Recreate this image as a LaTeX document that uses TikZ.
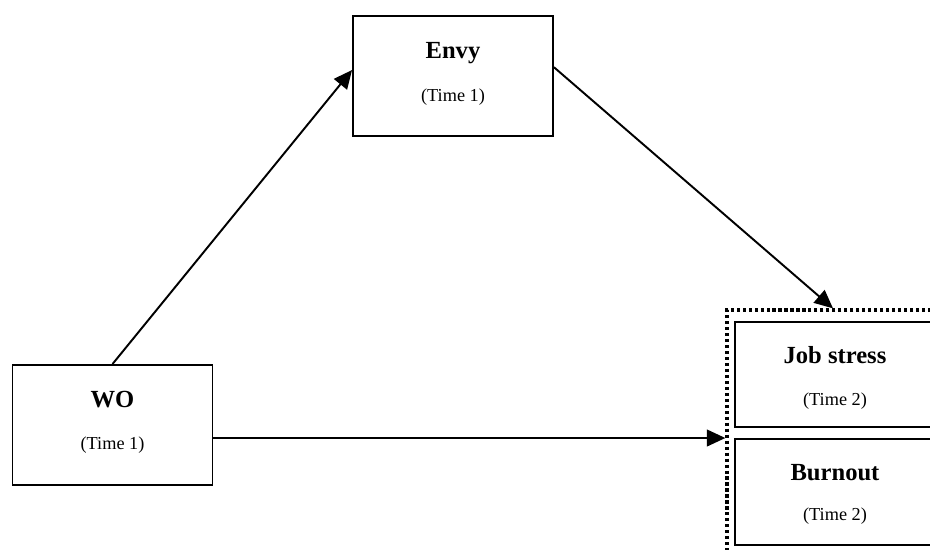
\documentclass[tikz,border=0pt]{standalone}
\usepackage{fontspec}
\setmainfont{Liberation Serif}
\usetikzlibrary{arrows.meta}
\begin{document}
\begin{tikzpicture}[x=0.02cm,y=-0.02cm,
		box/.style={draw,line width=1.1pt,minimum width=4cm,minimum height=2.4cm,inner sep=0pt},
		outbox/.style={draw,line width=1.1pt,minimum width=4cm,minimum height=2.1cm,inner sep=0pt},
		title/.style={font=\fontsize{14}{16}\selectfont\bfseries,anchor=base,inner sep=0pt},
		time/.style={font=\fontsize{10.4}{12}\selectfont,anchor=base,inner sep=0pt},
		arr/.style={-{Triangle[length=10.5pt,width=9.5pt]},line width=1.1pt}]
		\useasboundingbox[fill=white](0,0)rectangle(930,549);
		\clip(0,0)rectangle(930,549);
		\node[box](envy)at(453,76){};
		\node[box](wo)at(112.5,425){};
		\node[outbox](stress)at(835,374.5){};
		\node[outbox,minimum height=2.12cm](burnout)at(835,492){};
		\node[draw,dash pattern=on 1.8pt off 1.6pt,line width=1.9pt,minimum width=4.24cm,
			minimum height=4.92cm,inner sep=0pt](outcome)at(833,433){};
		\node[title]at(453,58){Envy};
		\node[time]at(453,101){(Time 1)};
		\node[title]at(112.5,407){WO};
		\node[time]at(112.5,449){(Time 1)};
		\node[title]at(835,363){Job stress};
		\node[time]at(835,405){(Time 2)};
		\node[title]at(835,480){Burnout};
		\node[time]at(835,520){(Time 2)};
		\draw[arr](wo.north)--([yshift=3.4pt]envy.west);
		\draw[arr]([yshift=5pt]envy.east)--(outcome.north);
		\draw[arr]([yshift=-7.4pt]wo.east)--([yshift=-7.4pt]wo.east -| outcome.west);
\end{tikzpicture}
\end{document}
